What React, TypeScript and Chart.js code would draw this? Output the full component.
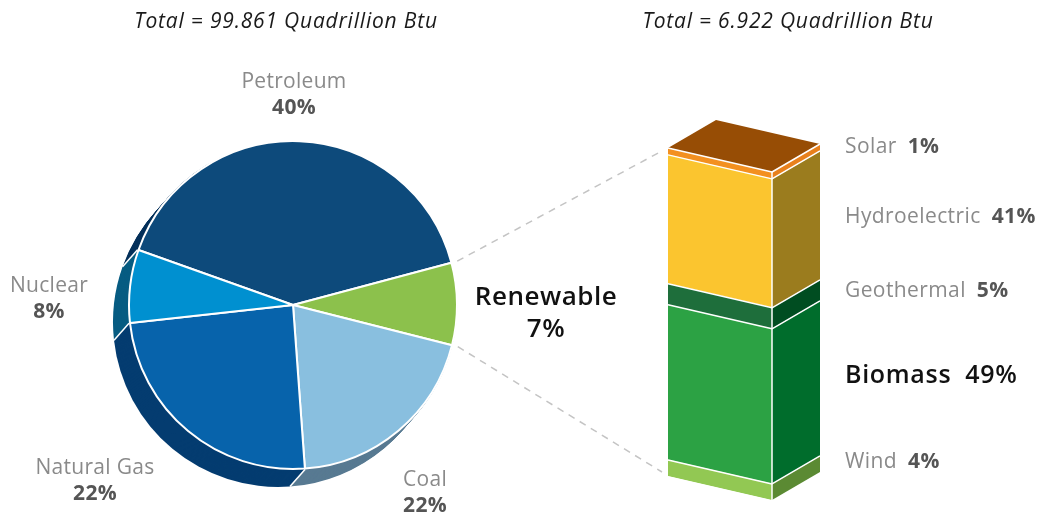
import React, { useEffect, useRef } from "react";
import { Chart, registerables } from "chart.js";

Chart.register(...registerables);

// ---------- data ----------
const titles = ["Total = 99.861 Quadrillion Btu", "Total = 6.922 Quadrillion Btu"];

const pieLabels = ["Petroleum", "Renewable", "Coal", "Natural Gas", "Nuclear"];
const pieShares = [40.4, 8.1, 19.9, 24.4, 7.2];
const piePctText = ["40%", "7%", "22%", "22%", "8%"];
const pieTopColors = ["#0D4A7B", "#8CC14C", "#89BFDF", "#0763AB", "#0090D0"];
const pieSideColors = ["#04305A", "#5E8A30", "#587A92", "#043C70", "#075C82"];

const barLabels = ["Wind", "Biomass", "Geothermal", "Hydroelectric", "Solar"];
const barShares = [4.9, 47.3, 6.4, 39.3, 2.1];
const barPctText = ["4%", "49%", "5%", "41%", "1%"];
const barFrontColors = ["#92C853", "#2CA244", "#1E6E3B", "#FBC52F", "#F39020"];
const barSideColors = ["#5B8A33", "#006D2C", "#004D21", "#9B7C1E", "#E8801C"];
const barTopColor = "#974D05";

// ---------- layout / style ----------
const FONT = "'Open Sans', sans-serif";
const PIE_ROTATION = 289.6;
const PIE_RADIUS = 164;
const DEPTH_X = -15;
const DEPTH_Y = 17;
const DEPTH_STEPS = 17;
const SHEAR = 24 / 104;
const SIDE_DX = 48;
const SIDE_DY = -28;
const CONNECTOR_ENDS = [
  [660, 152],
  [662, 472],
];

const pieLabelPos: Record<string, { x: number; base: number }> = {
  Petroleum: { x: 294, base: 88 },
  Nuclear: { x: 49, base: 292 },
  "Natural Gas": { x: 95, base: 474 },
  Coal: { x: 425, base: 486 },
  Renewable: { x: 546, base: 305 },
};
const barLabelBase: Record<string, number> = {
  Solar: 153,
  Hydroelectric: 223,
  Geothermal: 297,
  Biomass: 383,
  Wind: 468,
};

const pie3dPlugin = {
  id: "pie3d",
  beforeDatasetsDraw(chart: any) {
    const ctx = chart.ctx;
    const arcs = chart
      .getDatasetMeta(0)
      .data.map((a: any) => a.getProps(["x", "y", "startAngle", "endAngle", "outerRadius"], true));
    ctx.save();
    for (let k = DEPTH_STEPS; k >= 1; k--) {
      const dx = (DEPTH_X * k) / DEPTH_STEPS;
      const dy = (DEPTH_Y * k) / DEPTH_STEPS;
      arcs.forEach((a: any, i: number) => {
        ctx.beginPath();
        ctx.moveTo(a.x + dx, a.y + dy);
        ctx.arc(a.x + dx, a.y + dy, a.outerRadius + 1, a.startAngle, a.endAngle);
        ctx.closePath();
        ctx.fillStyle = pieSideColors[i];
        ctx.fill();
      });
    }
    ctx.strokeStyle = "#ffffff";
    ctx.lineWidth = 1.5;
    arcs.forEach((a: any) => {
      const px = a.x + (a.outerRadius + 1) * Math.cos(a.startAngle);
      const py = a.y + (a.outerRadius + 1) * Math.sin(a.startAngle);
      ctx.beginPath();
      ctx.moveTo(px, py);
      ctx.lineTo(px + DEPTH_X, py + DEPTH_Y);
      ctx.stroke();
    });
    ctx.restore();
  },
  afterDatasetsDraw(chart: any) {
    const ctx = chart.ctx;
    const idx = pieLabels.indexOf("Renewable");
    const a = chart
      .getDatasetMeta(0)
      .data[idx].getProps(["x", "y", "startAngle", "endAngle", "outerRadius"], true);
    const angles = [a.startAngle, a.endAngle];
    ctx.save();
    ctx.strokeStyle = "#c4c4c4";
    ctx.lineWidth = 1.5;
    ctx.setLineDash([7, 6]);
    angles.forEach((ang: number, i: number) => {
      const r = a.outerRadius + 6;
      ctx.beginPath();
      ctx.moveTo(a.x + r * Math.cos(ang), a.y + r * Math.sin(ang));
      ctx.lineTo(CONNECTOR_ENDS[i][0], CONNECTOR_ENDS[i][1]);
      ctx.stroke();
    });
    ctx.restore();
  },
};

const bar3dPlugin = {
  id: "bar3d",
  beforeDatasetsDraw(chart: any) {
    const el = chart.getDatasetMeta(0).data[0];
    const left = el.x - el.width / 2;
    chart.ctx.save();
    chart.ctx.transform(1, SHEAR, 0, 1, 0, -SHEAR * left);
  },
  afterDatasetsDraw(chart: any) {
    const ctx = chart.ctx;
    ctx.restore();
    const els = chart.data.datasets.map((_: any, i: number) =>
      chart.getDatasetMeta(i).data[0].getProps(["x", "y", "base", "width"], true)
    );
    const w = els[0].width;
    const left = els[0].x - w / 2;
    const right = left + w;
    const rs = SHEAR * w;
    ctx.save();
    // side faces
    els.forEach((e: any, i: number) => {
      ctx.beginPath();
      ctx.moveTo(right, e.y + rs);
      ctx.lineTo(right + SIDE_DX, e.y + rs + SIDE_DY);
      ctx.lineTo(right + SIDE_DX, e.base + rs + SIDE_DY);
      ctx.lineTo(right, e.base + rs);
      ctx.closePath();
      ctx.fillStyle = barSideColors[i];
      ctx.fill();
    });
    // top face
    const top = els[els.length - 1].y;
    ctx.beginPath();
    ctx.moveTo(left, top);
    ctx.lineTo(right, top + rs);
    ctx.lineTo(right + SIDE_DX, top + rs + SIDE_DY);
    ctx.lineTo(left + SIDE_DX, top + SIDE_DY);
    ctx.closePath();
    ctx.fillStyle = barTopColor;
    ctx.fill();
    // white edges
    ctx.strokeStyle = "#ffffff";
    ctx.lineWidth = 1.5;
    ctx.lineJoin = "round";
    const bottom = els[0].base;
    els.forEach((e: any) => {
      ctx.beginPath();
      ctx.moveTo(left, e.y);
      ctx.lineTo(right, e.y + rs);
      ctx.lineTo(right + SIDE_DX, e.y + rs + SIDE_DY);
      ctx.stroke();
    });
    ctx.beginPath();
    ctx.moveTo(right, top + rs);
    ctx.lineTo(right, bottom + rs);
    ctx.stroke();
    ctx.restore();
  },
};

const nameColor = "#8a8a8a";
const pctColor = "#555555";

export default function App() {
  const pieRef = useRef<HTMLCanvasElement>(null);
  const barRef = useRef<HTMLCanvasElement>(null);

  useEffect(() => {
    const pie = new Chart(pieRef.current as HTMLCanvasElement, {
      type: "pie",
      data: {
        labels: pieLabels,
        datasets: [
          {
            data: pieShares,
            backgroundColor: pieTopColors,
            borderColor: "#ffffff",
            borderWidth: 2,
          },
        ],
      },
      options: {
        responsive: false,
        animation: false,
        events: [],
        rotation: PIE_ROTATION,
        radius: PIE_RADIUS,
        layout: { padding: { left: 0, right: 454, top: 95, bottom: 0 } },
        plugins: { legend: { display: false }, tooltip: { enabled: false } },
      } as any,
      plugins: [pie3dPlugin],
    });

    const bar = new Chart(barRef.current as HTMLCanvasElement, {
      type: "bar",
      data: {
        labels: ["Renewable"],
        datasets: barLabels.map((lab, i) => ({
          label: lab,
          data: [barShares[i]],
          backgroundColor: barFrontColors[i],
          borderWidth: 0,
          barPercentage: 1,
          categoryPercentage: 1,
        })),
      },
      options: {
        responsive: false,
        animation: false,
        events: [],
        layout: { padding: { left: 668, right: 268, top: 148, bottom: 39 } },
        scales: {
          x: { stacked: true, display: false },
          y: { stacked: true, display: false, min: 0, max: 100 },
        },
        plugins: { legend: { display: false }, tooltip: { enabled: false } },
      } as any,
      plugins: [bar3dPlugin],
    });

    return () => {
      pie.destroy();
      bar.destroy();
    };
  }, []);

  const canvasStyle: React.CSSProperties = {
    position: "absolute",
    left: 0,
    top: 0,
    width: 1040,
    height: 515,
    display: "block",
  };

  return (
    <div
      style={{
        position: "fixed",
        left: 0,
        top: 0,
        width: 1040,
        height: 515,
        background: "#ffffff",
        fontFamily: FONT,
        overflow: "hidden",
      }}
    >
      <canvas ref={pieRef} width={1040} height={515} style={canvasStyle} />
      <canvas ref={barRef} width={1040} height={515} style={canvasStyle} />

      {titles.map((t, i) => (
        <div
          key={t}
          style={{
            position: "absolute",
            left: i === 0 ? 286 : 788,
            top: 28 - 21.5,
            transform: "translateX(-50%)",
            whiteSpace: "nowrap",
            fontSize: 21,
            letterSpacing: "0.8px",
            lineHeight: "26px",
            fontStyle: "italic",
            color: "#1a1a1a",
          }}
        >
          {t}
        </div>
      ))}

      {pieLabels.map((lab, i) => {
        const p = pieLabelPos[lab];
        const big = lab === "Renewable";
        return (
          <div
            key={lab}
            style={{
              position: "absolute",
              left: p.x,
              top: p.base - (big ? 26.1 : 21.15),
              transform: "translateX(-50%)",
              textAlign: "center",
              whiteSpace: "nowrap",
              fontSize: big ? 26 : 21,
              letterSpacing: big ? "0.5px" : "0.3px",
              lineHeight: big ? "32px" : "26px",
            }}
          >
            <div style={{ color: big ? "#111111" : nameColor, fontWeight: big ? 600 : 400 }}>{lab}</div>
            <div style={{ color: big ? "#111111" : pctColor, fontWeight: big ? 600 : 700 }}>
              {piePctText[i]}
            </div>
          </div>
        );
      })}

      {barLabels.map((lab, i) => {
        const big = lab === "Biomass";
        return (
          <div
            key={lab}
            style={{
              position: "absolute",
              left: 845,
              top: barLabelBase[lab] - (big ? 25.7 : 21.15),
              whiteSpace: "nowrap",
              fontSize: big ? 25 : 21,
              letterSpacing: big ? "0.7px" : "0.4px",
              lineHeight: big ? "32px" : "26px",
            }}
          >
            <span style={{ color: big ? "#111111" : nameColor, fontWeight: big ? 600 : 400 }}>{lab}</span>
            <span
              style={{
                color: big ? "#111111" : pctColor,
                fontWeight: big ? 600 : 700,
                marginLeft: big ? 14 : 11,
              }}
            >
              {barPctText[i]}
            </span>
          </div>
        );
      })}
    </div>
  );
}
